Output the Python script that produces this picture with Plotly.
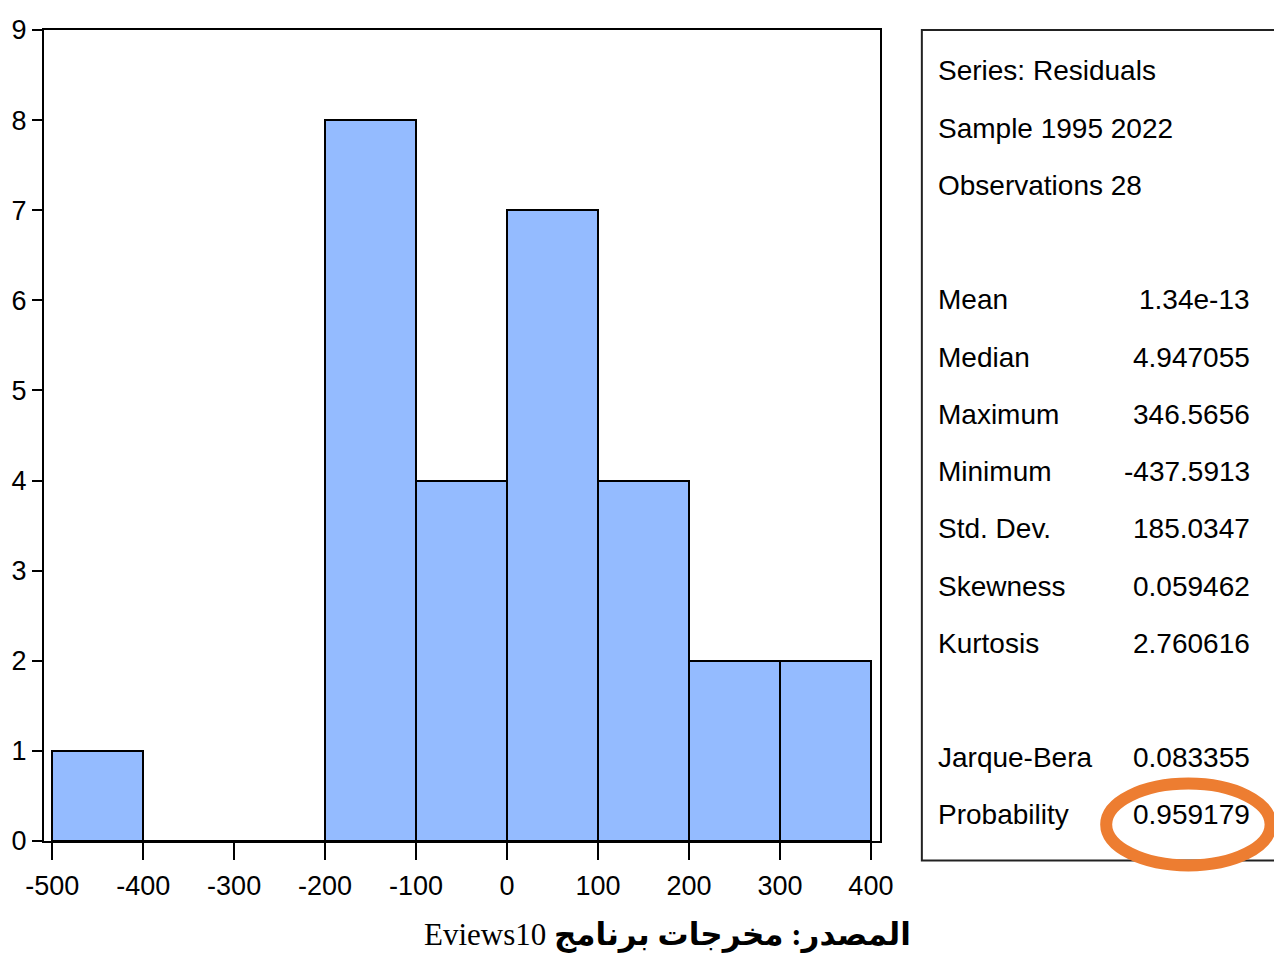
import plotly.graph_objects as go

# Histogram of residuals: bin edges and counts
bin_left = [-500, -400, -300, -200, -100, 0, 100, 200, 300]
bin_width = 100
counts = [1, 0, 0, 8, 4, 7, 4, 2, 2]

x_ticks = [-500, -400, -300, -200, -100, 0, 100, 200, 300, 400]
y_ticks = list(range(0, 10))

stat_header = ["Series: Residuals", "Sample 1995 2022", "Observations 28"]
stat_names = ["Mean", "Median", "Maximum", "Minimum", "Std. Dev.",
              "Skewness", "Kurtosis"]
stat_values = ["1.34e-13", "4.947055", "346.5656", "-437.5913", "185.0347",
               "0.059462", "2.760616"]
test_names = ["Jarque-Bera", "Probability"]
test_values = ["0.083355", "0.959179"]

caption = "Eviews10 <b>المصدر: مخرجات برنامج</b>"

W, H = 1274, 962
PL, PR, PT, PB = 41, 880, 30, 841.5  # plot area in pixels

SANS = "Liberation Sans, Arial, sans-serif"


def px(x):
    return (x - PL) / (PR - PL)


def py(y):
    return (PB - y) / (PB - PT)


centers = [l + bin_width / 2 for l in bin_left]

fig = go.Figure()
fig.add_trace(go.Bar(
    x=centers, y=counts, width=[bin_width] * len(counts),
    marker=dict(color="#94BBFF", line=dict(color="#000000", width=2)),
    hoverinfo="x+y",
))

fig.update_layout(
    width=W, height=H,
    margin=dict(l=PL, r=W - PR, t=PT, b=H - PB, pad=0),
    paper_bgcolor="white", plot_bgcolor="white",
    showlegend=False, bargap=0,
    font=dict(family=SANS, color="#000000"),
    xaxis=dict(
        range=[-509, 410], tickvals=x_ticks, ticktext=[str(v) for v in x_ticks],
        ticks="outside", ticklen=17, tickwidth=2, tickcolor="#000",
        showgrid=False, zeroline=False, showline=True, linecolor="#000",
        linewidth=2, mirror=True, tickfont=dict(size=27, family=SANS),
        ticklabelstandoff=3,
    ),
    yaxis=dict(
        range=[0, 9], tickvals=y_ticks, ticktext=[str(v) for v in y_ticks],
        ticks="outside", ticklen=10, tickwidth=2, tickcolor="#000",
        showgrid=False, zeroline=False, showline=True, linecolor="#000",
        linewidth=2, mirror=True, tickfont=dict(size=27, family=SANS),
    ),
)

shapes = []
# statistics panel frame
shapes.append(dict(type="rect", xref="paper", yref="paper",
                   x0=px(922), x1=px(1290), y0=py(861), y1=py(30),
                   line=dict(color="#222", width=2), fillcolor="rgba(0,0,0,0)"))
# highlight ring around the probability value
shapes.append(dict(type="circle", xref="paper", yref="paper",
                   x0=px(1107), x1=px(1272), y0=py(866), y1=py(784),
                   line=dict(color="#ED7D31", width=12)))
fig.update_layout(shapes=shapes)

ann = []
TXT = dict(size=28, family=SANS, color="#000")


def add_label(text, x, y, anchor):
    ann.append(dict(text=text, x=px(x), y=py(y), xref="paper", yref="paper",
                    xanchor=anchor, yanchor="middle", showarrow=False, font=TXT))


for i, t in enumerate(stat_header):
    add_label(t, 936, 71 + i * 57.3, "left")
for i, (n, v) in enumerate(zip(stat_names, stat_values)):
    y = 300 + i * 57.3
    add_label(n, 936, y, "left")
    add_label(v, 1253, y, "right")
for i, (n, v) in enumerate(zip(test_names, test_values)):
    y = 758 + i * 57.3
    add_label(n, 936, y, "left")
    add_label(v, 1253, y, "right")

ann.append(dict(text=caption, x=px(667), y=py(936), xref="paper", yref="paper",
                xanchor="center", yanchor="middle", showarrow=False,
                font=dict(size=31, family="Liberation Serif, DejaVu Serif, DejaVu Sans",
                          color="#000")))
fig.update_layout(annotations=ann)

fig.write_html("out.html")
